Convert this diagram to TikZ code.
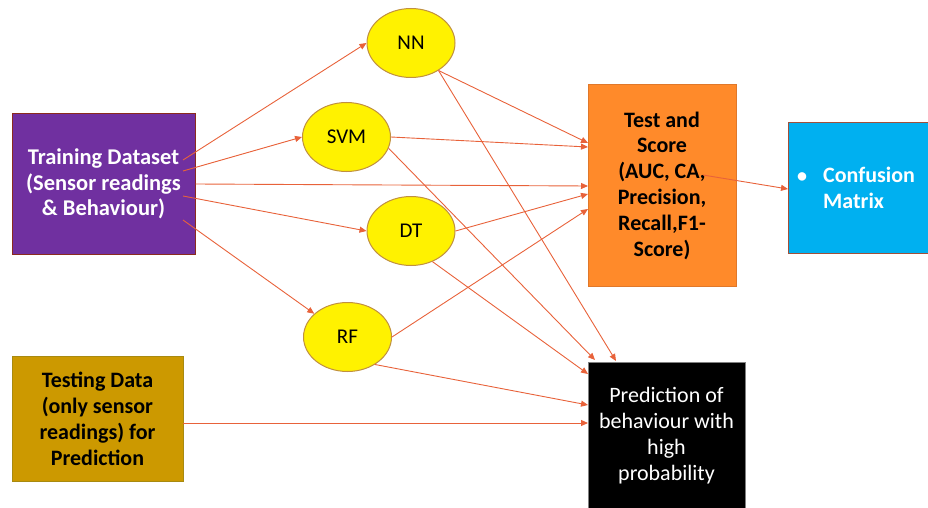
\documentclass[tikz,border=0pt]{standalone}
\usepackage{fontspec}
\setmainfont{Carlito}
\usetikzlibrary{arrows.meta,calc,shapes.geometric}
\definecolor{arr}{HTML}{E8623A}
\definecolor{purp}{HTML}{7030A0}
\definecolor{purpb}{HTML}{8B2A1E}
\definecolor{gold}{HTML}{CC9900}
\definecolor{goldb}{HTML}{A88A10}
\definecolor{orng}{HTML}{FF8A2A}
\definecolor{orngb}{HTML}{E0782A}
\definecolor{cyanb}{HTML}{00B0F0}
\definecolor{cyanbd}{HTML}{A0503A}
\definecolor{ellb}{HTML}{C09040}
\tikzset{
  boxnode/.style={draw, line width=1pt, inner sep=0pt, align=center},
  ml/.style={draw=ellb, fill=yellow, ellipse, line width=1pt, inner sep=0pt,
    minimum width=88pt, minimum height=69pt, font=\fontsize{21}{24}\selectfont},
  conn/.style={draw=arr, line width=0.9pt, -{Triangle[length=7pt,width=6pt]}}
}
\begin{document}
\begin{tikzpicture}[x=1pt,y=-1pt]
\useasboundingbox (0,0) rectangle (928,508);
% boxes
\node[boxnode, draw=purpb, fill=purp, minimum width=183pt, minimum height=140pt,
  text=white, font=\bfseries\fontsize{22.5}{25.5}\selectfont] (train) at (103.5,184)
  {Training Dataset\\(Sensor readings\\\& Behaviour)};
\node[boxnode, draw=goldb, fill=gold, minimum width=171pt, minimum height=125pt,
  font=\bfseries\fontsize{22}{26}\selectfont] (testing) at (97.5,418.5)
  {Testing Data\\(only sensor\\readings) for\\Prediction};
\node[boxnode, draw=orngb, fill=orng, minimum width=148pt, minimum height=201pt,
  font=\bfseries\fontsize{22}{25.8}\selectfont] (score) at (662,185.5)
  {Test and\\Score\\(AUC, CA,\\Precision,\\Recall,F1-\\Score)};
\node[boxnode, draw=cyanbd, fill=cyanb, minimum width=140pt, minimum height=130pt]
  (conf) at (858,188) {};
\node[text=white, font=\bfseries\fontsize{20}{26}\selectfont, anchor=west, inner sep=0pt]
  (bul) at (797,178) {•};
\node[text=white, font=\bfseries\fontsize{22}{26}\selectfont, align=left, anchor=north west, inner sep=0pt]
  (conftxt) at (823,167) {Confusion\\Matrix};
\node[boxnode, draw=gray, fill=black, minimum width=157pt, minimum height=146pt,
  text=white, font=\fontsize{22}{26}\selectfont] (pred) at (666.5,435.5)
  {Prediction of\\behaviour with\\high\\probability};
% ellipses
\node[ml] (nn) at (411,43) {NN};
\node[ml] (svm) at (346.5,137) {SVM};
\node[ml] (dt) at (411,231) {DT};
\node[ml] (rf) at (347.5,337) {RF};
% connector end points
\coordinate (t1) at (183,160);
\coordinate (t2) at (183,171);
\coordinate (t4) at (183,196);
\coordinate (t5) at (183,220);
\coordinate (ts) at (183,423);
\coordinate (sNN) at (588,143);
\coordinate (sSVM) at (588,147);
\coordinate (sTR) at (588,186);
\coordinate (sDT) at (588,194);
\coordinate (sRF) at (588,209);
\coordinate (pNN) at (616,361);
\coordinate (pSVM) at (595,360);
\coordinate (pDT) at (588,374);
\coordinate (pRF) at (588,405);
\coordinate (pTS) at (588,423);
\coordinate (cstart) at (703,175);
\coordinate (cend) at (788,189);
% connectors
\draw[conn] (t1) -- (nn.west);
\draw[conn] (t2) -- (svm.west);
\draw[conn] (train.east) -- (sTR);
\draw[conn] (t4) -- (dt.west);
\draw[conn] (t5) -- (rf.145);
\draw[conn] (nn.-45) -- (sNN);
\draw[conn] (nn.-45) -- (pNN);
\draw[conn] (svm.east) -- (sSVM);
\draw[conn] (svm.-15) -- (pSVM);
\draw[conn] (dt.east) -- (sDT);
\draw[conn] (dt.-55) -- (pDT);
\draw[conn] (rf.east) -- (sRF);
\draw[conn] (rf.-45) -- (pRF);
\draw[conn] (ts) -- (pTS);
\draw[conn] (cstart) -- (cend);
\end{tikzpicture}
\end{document}
